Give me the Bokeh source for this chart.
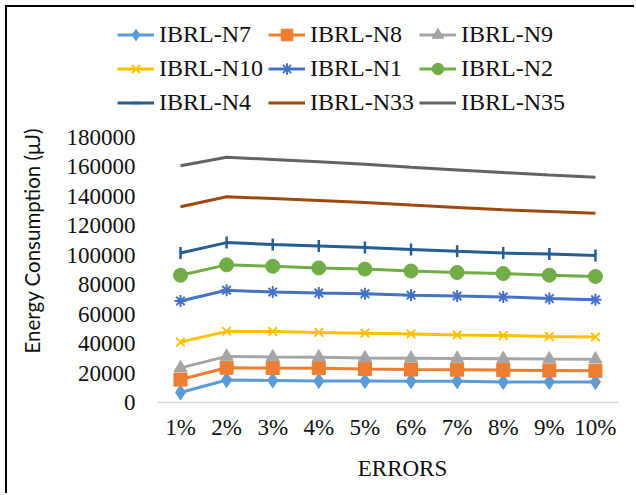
import math
from bokeh.plotting import figure
from bokeh.models import (Legend, LegendItem, Range1d, NumeralTickFormatter,
                          FixedTicker)
from bokeh.embed import file_html
from bokeh.resources import INLINE

errors = ["1%", "2%", "3%", "4%", "5%", "6%", "7%", "8%", "9%", "10%"]

n7 = [6800, 15300, 15000, 14600, 14600, 14500, 14500, 14000, 14000, 14000]
n8 = [15600, 23600, 23400, 23300, 22800, 22400, 22300, 22000, 21800, 21500]
n9 = [23500, 31300, 30900, 30800, 30300, 30100, 29900, 29700, 29500, 29400]
n10 = [41000, 48300, 48300, 47600, 47100, 46600, 45900, 45500, 44800, 44500]
n1 = [68900, 76200, 75000, 74400, 73900, 72900, 72300, 71700, 70600, 69800]
n2 = [86400, 93500, 92500, 91400, 90600, 89300, 88300, 87600, 86500, 85600]
n4 = [101600, 108600, 107300, 106300, 105200, 104000, 102700, 101500, 100800, 99900]
n33 = [133000, 139800, 138500, 137200, 135800, 134100, 132500, 130900, 129700, 128500]
n35 = [160800, 166600, 165100, 163500, 161800, 159800, 158000, 156200, 154500, 153000]

y_ticks = [0, 20000, 40000, 60000, 80000, 100000, 120000, 140000, 160000, 180000]
y_max = 180000

series = [
    ("IBRL-N7", n7, "#5B9BD5", "diamond", 15),
    ("IBRL-N8", n8, "#ED7D31", "square", 13),
    ("IBRL-N9", n9, "#A5A5A5", "triangle", 13),
    ("IBRL-N10", n10, "#FFC000", "x", 12),
    ("IBRL-N1", n1, "#4472C4", "asterisk", 12),
    ("IBRL-N2", n2, "#70AD47", "circle", 14),
    ("IBRL-N4", n4, "#255E91", "dash", 12),
    ("IBRL-N33", n33, "#9E480E", None, 0),
    ("IBRL-N35", n35, "#636363", None, 0),
]

# category positions on the x scale (one unit per category)
xpos = list(range(1, len(errors) + 1))

# layout (pixels inside the figure)
FRAME_LEFT, FRAME_RIGHT, FRAME_BOTTOM, DATA_TOP = 110, 611, 395, 130
cat_px = 46.1
first_center = 173
x_start = xpos[0] - (first_center - FRAME_LEFT) / cat_px
x_end = xpos[-1] + 0.5
y_end = y_max * FRAME_BOTTOM / (FRAME_BOTTOM - DATA_TOP)

p = figure(
    width=629, height=488,
    x_range=Range1d(x_start, x_end),
    y_range=Range1d(0, y_end),
    output_backend="svg", toolbar_location=None,
    min_border_left=FRAME_LEFT, min_border_right=629 - FRAME_RIGHT,
    min_border_top=0, min_border_bottom=488 - FRAME_BOTTOM,
)
p.styles = {"margin-left": "5px", "margin-top": "5px",
            "border-left": "2px solid black", "border-top": "2px solid black"}
p.outline_line_color = None
p.xgrid.grid_line_color = None
p.ygrid.grid_line_color = None

items = []
for name, vals, color, marker, size in series:
    rs = [p.line(xpos, vals, line_color=color, line_width=3)]
    if marker is not None:
        if marker == "dash":
            rs.append(p.scatter(xpos, vals, marker="dash", angle=math.pi / 2,
                                size=size, line_color=color, line_width=2.5))
        elif marker in ("x", "asterisk"):
            rs.append(p.scatter(xpos, vals, marker=marker, size=size,
                                line_color=color, line_width=2))
        else:
            rs.append(p.scatter(xpos, vals, marker=marker, size=size,
                                fill_color=color, line_color=color))
    items.append(LegendItem(label=name, renderers=rs))

legend = Legend(items=items, orientation="horizontal", ncols=3,
                location=(0, 285), padding=0, margin=0, spacing=5,
                glyph_width=37, glyph_height=29, label_standoff=5,
                label_text_font="Liberation Serif", label_text_font_size="24px",
                label_text_color="#111111", border_line_color=None,
                background_fill_alpha=0)
p.add_layout(legend, "center")

font = "Liberation Serif"
p.yaxis.formatter = NumeralTickFormatter(format="0")
p.yaxis.ticker = FixedTicker(ticks=y_ticks)
p.yaxis.bounds = (0, y_max)
p.xaxis.ticker = FixedTicker(ticks=xpos)
p.xaxis.major_label_overrides = {x: lab for x, lab in zip(xpos, errors)}
p.xaxis.bounds = (xpos[0] - 0.5, xpos[-1] + 0.5)
for axes in (p.xaxis, p.yaxis):
    axes.major_label_text_font = font
    axes.major_label_text_font_size = "23px"
    axes.major_label_text_color = "#111111"
    axes.major_tick_line_color = None
    axes.minor_tick_line_color = None
    axes.axis_line_color = "#D9D9D9"
    axes.axis_line_width = 1.5
p.yaxis.axis_line_color = None

# tick labels sit right of the frame edge, next to the first category
p.yaxis.major_label_standoff = -24
p.yaxis.axis_label = "Energy Consumption (μJ)" + "\u2003" * 4 + "\u2002"
p.yaxis.axis_label_text_font = "Lato"
p.yaxis.axis_label_text_font_style = "normal"
p.yaxis.axis_label_text_font_size = "20.5px"
p.yaxis.axis_label_text_color = "#111111"
p.yaxis.axis_label_standoff = 20

p.xaxis.major_label_standoff = 6
p.xaxis.axis_label = "\u2003\u2003\u2003ERRORS"
p.xaxis.axis_label_text_font = font
p.xaxis.axis_label_text_font_style = "normal"
p.xaxis.axis_label_text_font_size = "23px"
p.xaxis.axis_label_text_color = "#111111"
p.xaxis.axis_label_standoff = 13

open("out.html", "w").write(file_html(p, INLINE))
